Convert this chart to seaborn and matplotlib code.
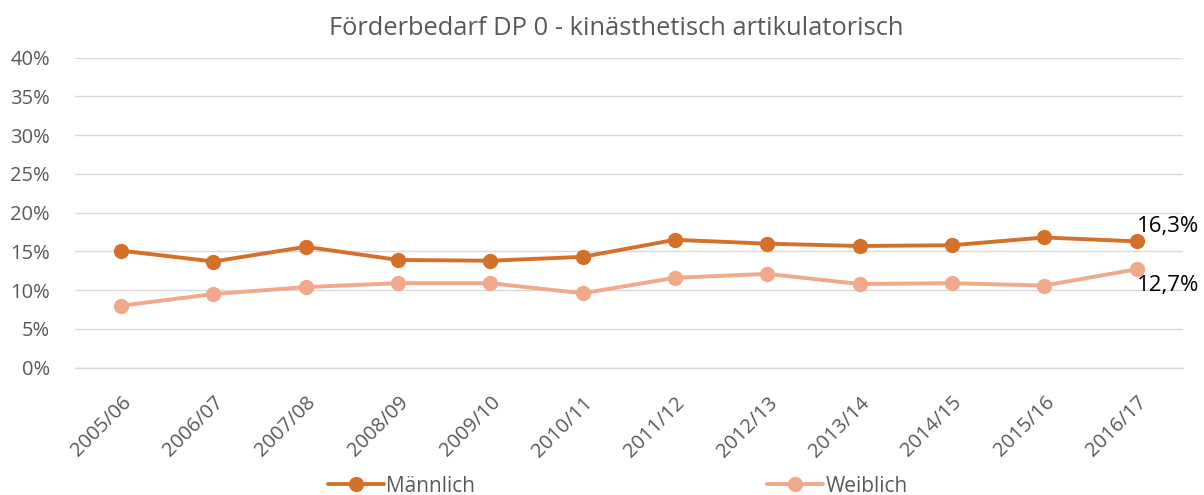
import pandas as pd
import matplotlib.pyplot as plt
import seaborn as sns
from matplotlib.ticker import PercentFormatter
from matplotlib.lines import Line2D

years = ["2005/06", "2006/07", "2007/08", "2008/09", "2009/10", "2010/11",
         "2011/12", "2012/13", "2013/14", "2014/15", "2015/16", "2016/17"]
maennlich = [15.1, 13.7, 15.6, 13.9, 13.8, 14.3, 16.5, 16.0, 15.7, 15.8, 16.8, 16.3]
weiblich = [8.0, 9.5, 10.4, 10.9, 10.9, 9.6, 11.6, 12.1, 10.8, 10.9, 10.6, 12.7]

COLORS = {"Männlich": "#D5702B", "Weiblich": "#F1A98B"}

sns.set_style("white")
plt.rcParams["font.family"] = ["Open Sans", "DejaVu Sans"]

df = pd.DataFrame({
    "Jahr": years * 2,
    "Anteil": maennlich + weiblich,
    "Geschlecht": ["Männlich"] * len(years) + ["Weiblich"] * len(years),
})
df["x"] = list(range(len(years))) * 2

fig = plt.figure(figsize=(12.04, 4.95), dpi=100)
ax = fig.add_axes([0.0623, 0.2572, 0.920, 0.6263])

sns.lineplot(data=df, x="x", y="Anteil", hue="Geschlecht", palette=COLORS,
             marker="o", markersize=11, markeredgewidth=0, linewidth=2.8,
             legend=False, ax=ax, zorder=3)

ax.set_xlim(-0.5, len(years) - 0.5)
ax.set_ylim(0, 40)
ax.set_yticks(range(0, 41, 5))
ax.yaxis.set_major_formatter(PercentFormatter(decimals=0))
ax.set_xticks(range(len(years)))
ax.set_xticklabels(years, rotation=45, ha="right", rotation_mode="anchor")
ax.tick_params(axis="both", length=0, labelsize=14.5, labelcolor="#595959")
ax.tick_params(axis="y", pad=18)
ax.tick_params(axis="x", pad=18)
ax.set_xlabel("")
ax.set_ylabel("")
ax.grid(axis="y", color="#D9D9D9", linewidth=1)
ax.axhline(0, color="#D9D9D9", linewidth=1, clip_on=False, zorder=1)
sns.despine(ax=ax, left=True, bottom=True)

ax.set_title("Förderbedarf DP 0 - kinästhetisch artikulatorisch",
             fontsize=18.4, color="#595959", pad=16, x=0.489)

last = len(years) - 1
ax.annotate(f"{maennlich[-1]:.1f}%".replace(".", ","), (last, maennlich[-1]),
            xytext=(0, 3), textcoords="offset points", fontsize=16,
            color="black", va="bottom", ha="left")
ax.annotate(f"{weiblich[-1]:.1f}%".replace(".", ","), (last, weiblich[-1]),
            xytext=(0, -4), textcoords="offset points", fontsize=16,
            color="black", va="top", ha="left")

handles = [Line2D([], [], color=COLORS[k], marker="o", markersize=11,
                  markeredgewidth=0, linewidth=2.8) for k in COLORS]
fig.legend(handles, list(COLORS), loc="lower center", ncol=2,
           bbox_to_anchor=(0.513, -0.041), frameon=False, fontsize=15,
           labelcolor="#595959", handlelength=2.7, handletextpad=0.1,
           columnspacing=14)

plt.savefig("out.png", dpi=100)
plt.close()
